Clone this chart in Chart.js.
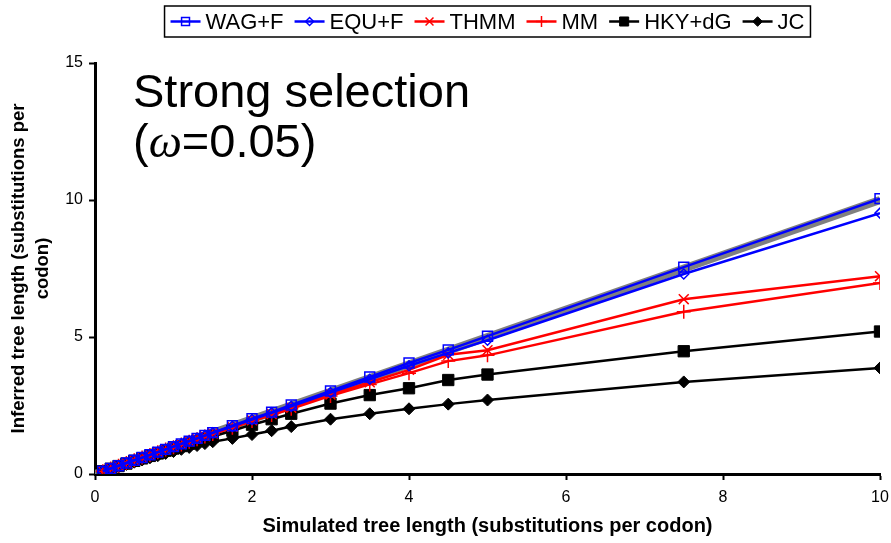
<!DOCTYPE html>
<html>
<head>
<meta charset="utf-8">
<title>Strong selection</title>
<script src="https://cdn.jsdelivr.net/npm/chart.js"></script>
<style>
  html, body { margin: 0; padding: 0; background: #fff; }
  #chart { display: block; }
</style>
</head>
<body>
<canvas id="chart" width="891" height="543"></canvas>
<script>
// simulated tree length (x) and inferred tree length for each model (y)
const simLength = [0.1, 0.2, 0.3, 0.4, 0.5, 0.6, 0.7, 0.8, 0.9, 1.0, 1.1, 1.2, 1.3, 1.4, 1.5,
  1.75, 2, 2.25, 2.5, 3, 3.5, 4, 4.5, 5, 7.5, 10];
const wagF = [0.1, 0.2, 0.3, 0.4, 0.5, 0.6, 0.7, 0.8, 0.9, 1.0, 1.1, 1.2, 1.3, 1.41, 1.51,
  1.76, 2.02, 2.26, 2.52, 3.03, 3.54, 4.05, 4.53, 5.03, 7.55, 10.05];
const equF = [0.1, 0.2, 0.3, 0.4, 0.5, 0.6, 0.7, 0.8, 0.9, 1.0, 1.1, 1.2, 1.3, 1.4, 1.5,
  1.74, 1.99, 2.23, 2.47, 2.97, 3.46, 3.95, 4.42, 4.88, 7.3, 9.52];
const thmm = [0.1, 0.2, 0.3, 0.4, 0.5, 0.6, 0.7, 0.8, 0.89, 0.99, 1.09, 1.19, 1.29, 1.38, 1.48,
  1.72, 1.96, 2.19, 2.42, 2.9, 3.35, 3.8, 4.35, 4.52, 6.38, 7.22];
const mm = [0.1, 0.2, 0.3, 0.4, 0.5, 0.6, 0.69, 0.79, 0.89, 0.98, 1.08, 1.18, 1.27, 1.37, 1.46,
  1.69, 1.93, 2.15, 2.38, 2.85, 3.27, 3.68, 4.12, 4.33, 5.92, 6.97];
const hkyDG = [0.1, 0.19, 0.29, 0.38, 0.48, 0.57, 0.66, 0.75, 0.85, 0.93, 1.02, 1.11, 1.2, 1.28, 1.37,
  1.58, 1.8, 2.0, 2.2, 2.57, 2.88, 3.13, 3.43, 3.63, 4.48, 5.2];
const jc = [0.09, 0.18, 0.26, 0.35, 0.43, 0.51, 0.59, 0.67, 0.75, 0.82, 0.9, 0.97, 1.04, 1.11, 1.18,
  1.3, 1.44, 1.58, 1.73, 2.0, 2.2, 2.38, 2.55, 2.7, 3.36, 3.87];
// y = x reference line
const refX = [0, 10];
const refY = [0, 10];

const seriesNames = ['WAG+F', 'EQU+F', 'THMM', 'MM', 'HKY+dG', 'JC'];
const xTitle = 'Simulated tree length (substitutions per codon)';
const yTitle = ['Inferred tree length (substitutions per', 'codon)'];
const panelTitle = 'Strong selection';
const omegaValue = '0.05';

const FONT = '"Liberation Sans", Arial, sans-serif';

function points (xs, ys) {
  return xs.map((x, i) => ({ x: x, y: ys[i] }));
}

function series (label, ys, color, style, radius, filled, pbw) {
  return {
    label: label,
    data: points(simLength, ys),
    showLine: true,
    borderColor: color,
    borderWidth: 2.5,
    pointStyle: style,
    pointRadius: radius,
    pointBorderWidth: pbw,
    pointBorderColor: color,
    pointBackgroundColor: filled ? color : 'rgba(0,0,0,0)'
  };
}

const datasets = [
  series(seriesNames[0], wagF, '#0000ff', 'rect', 7, false, 1.5),
  series(seriesNames[1], equF, '#0000ff', 'rectRot', 5, false, 1.5),
  series(seriesNames[2], thmm, '#ff0000', 'crossRot', 7, false, 1.5),
  series(seriesNames[3], mm, '#ff0000', 'cross', 7, false, 1.5),
  series(seriesNames[4], hkyDG, '#000000', 'rect', 8, true, 1),
  series(seriesNames[5], jc, '#000000', 'rectRot', 6, true, 1),
  {
    label: 'y=x',
    data: points(refX, refY),
    showLine: true,
    borderColor: '#808080',
    borderWidth: 8,
    pointRadius: 0,
    hideInLegend: true
  }
];

// boxed legend, each entry = line sample with marker + label
const boxLegend = {
  id: 'boxLegend',
  afterDraw (chart) {
    const ctx = chart.ctx;
    const items = chart.data.datasets.filter(d => !d.hideInLegend);
    const lineLen = 30;
    const gapText = 5;
    const gapItem = 11;
    const pad = 6;
    ctx.save();
    ctx.font = '22px ' + FONT;
    let total = pad * 2;
    items.forEach((d, i) => {
      total += lineLen + gapText + ctx.measureText(d.label).width + (i ? gapItem : 0);
    });
    const cx = (chart.chartArea.left + chart.chartArea.right) / 2;
    let x = cx - total / 2;
    const top = 6;
    const h = 31;
    const y = top + h / 2;
    ctx.strokeStyle = '#000';
    ctx.lineWidth = 1.5;
    ctx.strokeRect(x, top, total, h);
    x += pad;
    items.forEach((d, i) => {
      if (i) x += gapItem;
      ctx.strokeStyle = d.borderColor;
      ctx.lineWidth = d.borderWidth;
      ctx.beginPath();
      ctx.moveTo(x, y);
      ctx.lineTo(x + lineLen, y);
      ctx.stroke();
      ctx.fillStyle = d.pointBackgroundColor;
      ctx.lineWidth = d.pointBorderWidth;
      Chart.helpers.drawPoint(ctx, {
        pointStyle: d.pointStyle,
        rotation: 0,
        radius: d.pointRadius * 0.8,
        borderWidth: d.pointBorderWidth
      }, x + lineLen / 2, y);
      x += lineLen + gapText;
      ctx.fillStyle = '#000';
      ctx.textBaseline = 'middle';
      ctx.textAlign = 'left';
      ctx.fillText(d.label, x, y + 1);
      x += ctx.measureText(d.label).width;
    });
    ctx.restore();
  }
};

// "Strong selection (ω=0.05)" inside the plot
const panelText = {
  id: 'panelText',
  afterDraw (chart) {
    const ctx = chart.ctx;
    const { left, top } = chart.chartArea;
    const x0 = left + 38;
    ctx.save();
    ctx.fillStyle = '#000';
    ctx.textBaseline = 'alphabetic';
    ctx.textAlign = 'left';
    ctx.font = '47px ' + FONT;
    ctx.fillText(panelTitle, x0, top + 44);
    const y2 = top + 94;
    let x = x0;
    ctx.fillText('(', x, y2);
    x += ctx.measureText('(').width;
    ctx.font = 'italic 47px "Liberation Serif", "Times New Roman", serif';
    ctx.fillText('ω', x, y2);
    x += ctx.measureText('ω').width;
    ctx.font = '47px ' + FONT;
    ctx.fillText('=' + omegaValue + ')', x, y2);
    ctx.restore();
  }
};

new Chart(document.getElementById('chart'), {
  type: 'scatter',
  data: { datasets: datasets },
  options: {
    responsive: false,
    animation: false,
    devicePixelRatio: 1,
    layout: { padding: { left: 0, right: 11, top: 63, bottom: 0 } },
    plugins: {
      legend: { display: false },
      tooltip: { enabled: false }
    },
    scales: {
      x: {
        type: 'linear',
        min: 0,
        max: 10,
        afterFit: (scale) => {
          scale.height = 69;
          scale.paddingLeft = 0;
          scale.paddingRight = 0;
        },
        border: { display: true, color: '#000', width: 3 },
        grid: { drawOnChartArea: false, drawTicks: true, tickLength: 6, tickColor: '#000', tickWidth: 2 },
        ticks: { stepSize: 2, color: '#000', padding: 8, font: { family: FONT, size: 16 } },
        title: {
          display: true,
          text: xTitle,
          color: '#000',
          padding: { top: 0, bottom: 5 },
          font: { family: FONT, size: 20, weight: 'bold' }
        }
      },
      y: {
        type: 'linear',
        min: 0,
        max: 15,
        afterFit: (scale) => { scale.width = 95; },
        border: { display: true, color: '#000', width: 3 },
        grid: { drawOnChartArea: false, drawTicks: true, tickLength: 6, tickColor: '#000', tickWidth: 2 },
        ticks: { stepSize: 5, color: '#000', padding: 6, font: { family: FONT, size: 16 } },
        title: {
          display: true,
          text: yTitle,
          color: '#000',
          padding: { top: 7, bottom: 0 },
          font: { family: FONT, size: 18.5, weight: 'bold', lineHeight: 1.3 }
        }
      }
    }
  },
  plugins: [boxLegend, panelText]
});
</script>
</body>
</html>
